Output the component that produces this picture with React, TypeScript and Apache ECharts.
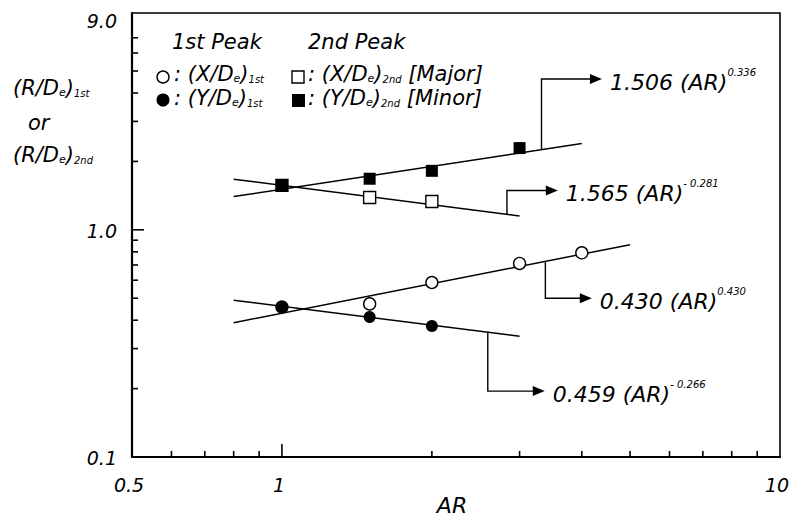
import React, { useEffect, useRef } from 'react';
import * as echarts from 'echarts';

// ---- data ----
const xDe1stAR = [1, 1.5, 2, 3, 4];
const xDe1st = [0.457, 0.472, 0.586, 0.711, 0.792];
const yDe1stAR = [1, 1.5, 2];
const yDe1st = [0.457, 0.413, 0.377];
const xDe2ndAR = [1, 1.5, 2];
const xDe2nd = [1.569, 1.387, 1.333];
const yDe2ndAR = [1, 1.5, 2, 3];
const yDe2nd = [1.569, 1.678, 1.818, 2.289];

// fitted power-law lines (end points)
const fitA_AR = [0.8, 4];
const fitA = [1.40, 2.40];
const fitB_AR = [0.8, 3];
const fitB = [1.67, 1.15];
const fitC_AR = [0.8, 5];
const fitC = [0.39, 0.86];
const fitD_AR = [0.8, 3];
const fitD = [0.49, 0.34];

// callouts
const calloutLabels = ['1.506 (AR)', '1.565 (AR)', '0.430 (AR)', '0.459 (AR)'];
const calloutExponents = ['0.336', '- 0.281', '0.430', '- 0.266'];
const calloutAnchorAR = [3.32, 2.83, 3.38, 2.59];
const calloutAnchorVal = [2.27, 1.17, 0.72, 0.355];
const calloutElbowVal = [4.61, 1.49, 0.50, 0.195];
const calloutTipAR = [4.39, 3.58, 4.19, 3.37];

// axes
const X_MIN = 0.5;
const X_MAX = 10;
const Y_MIN = 0.1;
const Y_MAX = 9;
const xTickValues = [0.5, 1, 10];
const xTickLabels = ['0.5', '1', '10'];
const yTickValues = [0.1, 1, 9];
const yTickLabels = ['0.1', '1.0', '9.0'];
const xMinorTicks = [0.6, 0.7, 0.8, 0.9, 2, 3, 4, 5, 6, 7, 8, 9];
const xMajorTicks = [1];
const yMinorTicks = [0.2, 0.3, 0.4, 0.5, 0.6, 0.7, 0.8, 0.9, 2, 3, 4, 5, 6, 7];
const yMajorTicks = [1];

const FONT = 'DejaVu Sans';

const tok = (size: number, lh: number, va: string) => ({
  fontFamily: FONT,
  fontStyle: 'italic',
  fontSize: size,
  lineHeight: lh,
  verticalAlign: va,
  fill: '#000',
  color: '#000',
});

const rich = {
  m: tok(21, 26, 'bottom'),
  e: tok(11, 13, 'bottom'),
  s: tok(10, 12, 'bottom'),
  p: tok(10, 10, 'top'),
  big: tok(22, 26, 'bottom'),
};

const pair = (a: number[], b: number[]) => a.map((v, i) => [v, b[i]]);

export default function App() {
  const ref = useRef<HTMLDivElement>(null);
  useEffect(() => {
    if (!ref.current) return;
    const chart = echarts.init(ref.current, undefined, { renderer: 'svg' });

    const tickSeries = (vals: number[], isX: boolean, len: number) => ({
      type: 'custom',
      coordinateSystem: 'cartesian2d',
      silent: true,
      z: 5,
      data: vals.map((v) => (isX ? [v, Y_MIN] : [X_MIN, v])),
      renderItem: (_p: any, api: any) => {
        const pt = api.coord([api.value(0), api.value(1)]);
        return {
          type: 'line',
          shape: isX
            ? { x1: pt[0], y1: pt[1], x2: pt[0], y2: pt[1] - len }
            : { x1: pt[0], y1: pt[1], x2: pt[0] + len, y2: pt[1] },
          style: { stroke: '#000', lineWidth: 1.6 },
        };
      },
    });

    const labelSeries = (vals: number[], labels: string[], isX: boolean) => ({
      type: 'custom',
      coordinateSystem: 'cartesian2d',
      silent: true,
      data: vals.map((v) => (isX ? [v, Y_MIN] : [X_MIN, v])),
      renderItem: (p: any, api: any) => {
        const pt = api.coord([api.value(0), api.value(1)]);
        const txt = labels[p.dataIndex];
        const isTop = !isX && api.value(1) === Y_MAX;
        return {
          type: 'text',
          x: isX ? pt[0] - 3 : pt[0] - 15,
          y: isX ? pt[1] + 28 : isTop ? pt[1] - 2 : pt[1] + 1,
          style: {
            text: txt,
            fontFamily: FONT,
            fontStyle: 'italic',
            fontSize: 19,
            fill: '#000',
            align: isX ? 'center' : 'right',
            verticalAlign: isTop ? 'top' : 'middle',
          },
        };
      },
    });

    const lineSeries = (ar: number[], v: number[]) => ({
      type: 'line',
      data: pair(ar, v),
      showSymbol: false,
      symbol: 'none',
      silent: true,
      lineStyle: { color: '#000', width: 1.5 },
      z: 2,
    });

    const scatter = (ar: number[], v: number[], symbol: string, filled: boolean) => ({
      type: 'scatter',
      data: pair(ar, v),
      symbol,
      symbolSize: 12,
      silent: true,
      z: filled ? 4 : 3,
      itemStyle: filled
        ? { color: '#000', opacity: 1 }
        : { color: '#fff', borderColor: '#000', borderWidth: 1.4, opacity: 1 },
    });

    const option: any = {
      animation: false,
      backgroundColor: '#fff',
      grid: {
        left: 132,
        right: 14,
        top: 13,
        bottom: 58,
        show: true,
        borderColor: '#000',
        borderWidth: 1.6,
        backgroundColor: 'transparent',
      },
      xAxis: {
        type: 'log',
        logBase: 10,
        min: X_MIN,
        max: X_MAX,
        axisLine: { show: true, lineStyle: { color: '#000', width: 2.2 } },
        axisTick: { show: false },
        axisLabel: { show: false },
        splitLine: { show: false },
        minorTick: { show: false },
        name: 'AR',
        nameLocation: 'middle',
        nameGap: 37,
        nameTextStyle: {
          fontFamily: FONT,
          fontStyle: 'italic',
          fontSize: 22,
          color: '#000',
          padding: [0, 8, 0, 0],
        },
      },
      yAxis: {
        type: 'log',
        logBase: 10,
        min: Y_MIN,
        max: Y_MAX,
        axisLine: { show: true, lineStyle: { color: '#000', width: 2.2 } },
        axisTick: { show: false },
        axisLabel: { show: false },
        splitLine: { show: false },
        minorTick: { show: false },
      },
      graphic: [
        // y-axis title
        {
          type: 'text',
          left: 13,
          top: 77,
          style: { text: '{m|(R/D}{e|e}{m|)}{s|1st}', rich, fill: '#000' },
        },
        {
          type: 'text',
          left: 28,
          top: 112,
          style: { text: '{m|or}', rich, fill: '#000' },
        },
        {
          type: 'text',
          left: 13,
          top: 144,
          style: { text: '{m|(R/D}{e|e}{m|)}{s|2nd}', rich, fill: '#000' },
        },
        // legend headers
        {
          type: 'text',
          left: 172,
          top: 31,
          style: { text: '{m|1st Peak}', rich, fill: '#000' },
        },
        {
          type: 'text',
          left: 308,
          top: 31,
          style: { text: '{m|2nd Peak}', rich, fill: '#000' },
        },
        // legend markers
        {
          type: 'circle',
          shape: { cx: 163, cy: 77, r: 6 },
          style: { fill: '#fff', stroke: '#000', lineWidth: 1.4 },
        },
        {
          type: 'circle',
          shape: { cx: 163, cy: 100, r: 6.5 },
          style: { fill: '#000' },
        },
        {
          type: 'rect',
          shape: { x: 292, y: 71, width: 12, height: 12 },
          style: { fill: '#fff', stroke: '#000', lineWidth: 1.4 },
        },
        {
          type: 'rect',
          shape: { x: 292, y: 94, width: 13, height: 13 },
          style: { fill: '#000' },
        },
        // legend texts
        {
          type: 'text',
          left: 174,
          top: 63,
          style: { text: '{m|: (X/D}{e|e}{m|)}{s|1st}', rich, fill: '#000' },
        },
        {
          type: 'text',
          left: 174,
          top: 87,
          style: { text: '{m|: (Y/D}{e|e}{m|)}{s|1st}', rich, fill: '#000' },
        },
        {
          type: 'text',
          left: 308,
          top: 63,
          style: { text: '{m|: (X/D}{e|e}{m|)}{s|2nd}{m| [Major]}', rich, fill: '#000' },
        },
        {
          type: 'text',
          left: 308,
          top: 87,
          style: { text: '{m|: (Y/D}{e|e}{m|)}{s|2nd}{m| [Minor]}', rich, fill: '#000' },
        },
      ],
      series: [
        lineSeries(fitA_AR, fitA),
        lineSeries(fitB_AR, fitB),
        lineSeries(fitC_AR, fitC),
        lineSeries(fitD_AR, fitD),
        scatter(xDe1stAR, xDe1st, 'circle', false),
        scatter(xDe2ndAR, xDe2nd, 'rect', false),
        scatter(yDe1stAR, yDe1st, 'circle', true),
        scatter(yDe2ndAR, yDe2nd, 'rect', true),
        tickSeries(xMinorTicks, true, 6),
        tickSeries(xMajorTicks, true, 13),
        tickSeries(yMinorTicks, false, 6),
        tickSeries(yMajorTicks, false, 12),
        labelSeries(xTickValues, xTickLabels, true),
        labelSeries(yTickValues, yTickLabels, false),
        {
          type: 'custom',
          coordinateSystem: 'cartesian2d',
          silent: true,
          z: 6,
          data: pair(calloutAnchorAR, calloutAnchorVal),
          renderItem: (p: any, api: any) => {
            const i = p.dataIndex;
            const a = api.coord([calloutAnchorAR[i], calloutAnchorVal[i]]);
            const e = api.coord([calloutAnchorAR[i], calloutElbowVal[i]]);
            const t = api.coord([calloutTipAR[i], calloutElbowVal[i]]);
            const ah = 12;
            const aw = 5;
            return {
              type: 'group',
              children: [
                {
                  type: 'polyline',
                  shape: { points: [a, e, [t[0] - ah + 1, t[1]]] },
                  style: { stroke: '#000', lineWidth: 1.4, fill: 'none' },
                },
                {
                  type: 'polygon',
                  shape: {
                    points: [
                      [t[0] - ah, t[1] - aw],
                      [t[0], t[1]],
                      [t[0] - ah, t[1] + aw],
                    ],
                  },
                  style: { fill: '#000' },
                },
                {
                  type: 'text',
                  x: t[0] + 8,
                  y: t[1] + 1,
                  style: {
                    text: `{big|${calloutLabels[i]}}{p|${calloutExponents[i]}}`,
                    rich,
                    fill: '#000',
                    align: 'left',
                    verticalAlign: 'middle',
                  },
                },
              ],
            };
          },
        },
      ],
    };

    chart.setOption(option);
    return () => chart.dispose();
  }, []);

  return (
    <div
      ref={ref}
      style={{ position: 'fixed', left: 0, top: 0, width: 794, height: 521, background: '#fff' }}
    />
  );
}
